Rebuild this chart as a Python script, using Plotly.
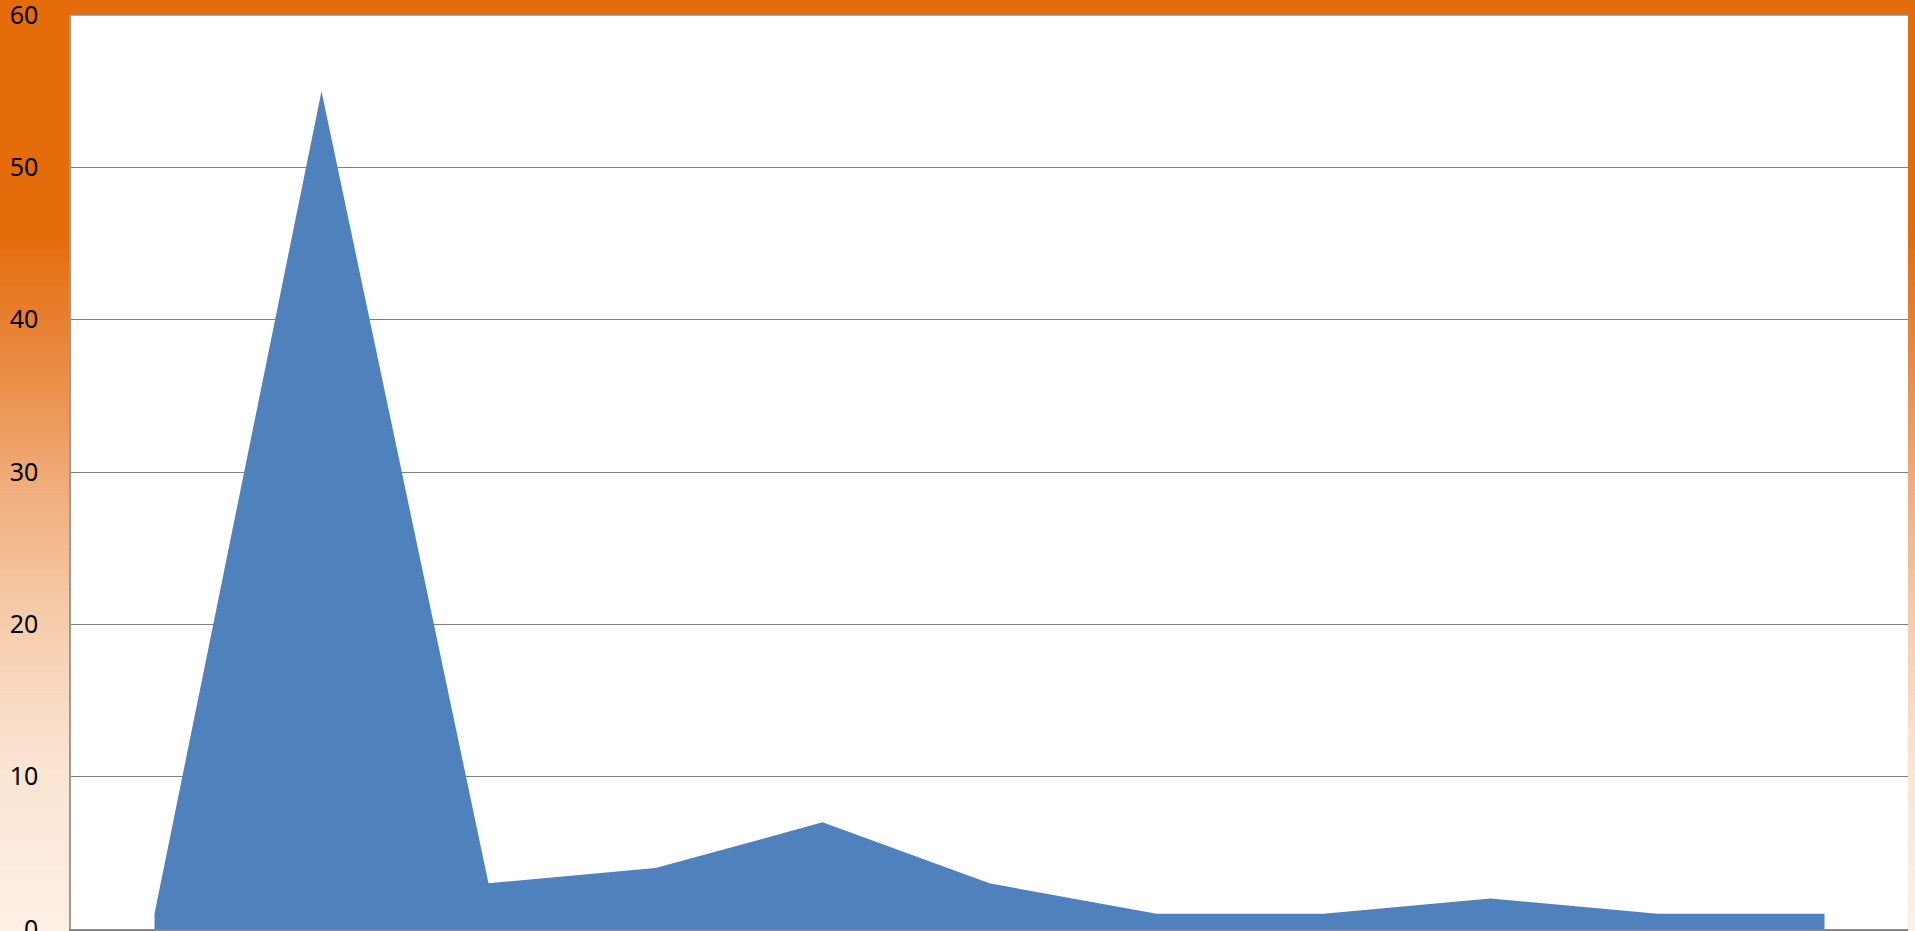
import plotly.graph_objects as go

categories = ["1", "2", "3", "4", "5", "6", "7", "8", "9", "10", "11"]
values = [1, 55, 3, 4, 7, 3, 1, 1, 2, 1, 1]
y_ticks = [0, 10, 20, 30, 40, 50, 60]

W, H = 1915, 931
ML, MR, MT, MB = 71, 7, 15, 2
PW, PH = W - ML - MR, H - MT - MB

# background gradient stops (fraction from top, rgb)
stops = [
    (0.00, (228, 108, 10)),
    (0.25, (228, 108, 10)),
    (0.40, (234, 140, 70)),
    (0.52, (240, 172, 122)),
    (0.66, (246, 203, 170)),
    (0.82, (251, 228, 210)),
    (1.00, (253, 240, 229)),
]


def color_at(f):
    for (f0, c0), (f1, c1) in zip(stops[:-1], stops[1:]):
        if f0 <= f <= f1:
            t = 0 if f1 == f0 else (f - f0) / (f1 - f0)
            return "rgb(%d,%d,%d)" % tuple(round(a + (b - a) * t) for a, b in zip(c0, c1))
    return "rgb(%d,%d,%d)" % stops[-1][1]


shapes = []
N = 186
for i in range(N):
    top_px = H * i / N
    bot_px = H * (i + 1) / N + 1
    y1 = 1 + (MT - top_px) / PH
    y0 = 1 + (MT - bot_px) / PH
    shapes.append(dict(
        type="rect", xref="paper", yref="paper", layer="below",
        x0=-ML / PW - 0.01, x1=1 + MR / PW + 0.01, y0=y0, y1=y1,
        fillcolor=color_at((i + 0.5) / N), line=dict(width=0),
    ))
shapes.append(dict(
    type="rect", xref="paper", yref="paper", layer="below",
    x0=0, x1=1, y0=0, y1=1, fillcolor="white", line=dict(width=0),
))
# top border (gridline at the top of the range)
shapes.append(dict(
    type="line", xref="paper", yref="paper", layer="above",
    x0=0, x1=1, y0=1, y1=1, line=dict(color="#8c8c8c", width=1.5),
))

fig = go.Figure()
fig.add_trace(go.Scatter(
    x=categories, y=values, mode="lines", fill="tozeroy",
    fillcolor="#4F81BD", line=dict(width=0, color="#4F81BD"),
    hoverinfo="x+y", showlegend=False,
))

fig.update_layout(
    width=W, height=H,
    margin=dict(l=ML, r=MR, t=MT, b=MB, pad=0, autoexpand=False),
    paper_bgcolor="#FDEFE5", plot_bgcolor="white",
    shapes=shapes,
    showlegend=False,
    xaxis=dict(
        type="category", range=[-0.5, len(categories) - 0.5],
        showgrid=False, showticklabels=False, ticks="",
        showline=True, linecolor="#868686", linewidth=2,
        zeroline=False, fixedrange=True, automargin=False,
    ),
    yaxis=dict(
        range=[0, 60], tickvals=y_ticks, ticktext=[str(v) for v in y_ticks],
        showgrid=True, gridcolor="#808080", gridwidth=1,
        showline=True, linecolor="#9a9a9a", linewidth=1.5,
        zeroline=False, ticks="", ticklabelstandoff=26,
        ticklabeloverflow="allow", automargin=False,
        tickfont=dict(family="Noto Sans", size=25, color="black"),
        fixedrange=True,
    ),
)

fig.write_html(
    "out.html",
    config={"displayModeBar": False},
    post_script="document.body.style.margin='0';document.body.style.overflow='hidden';",
)
